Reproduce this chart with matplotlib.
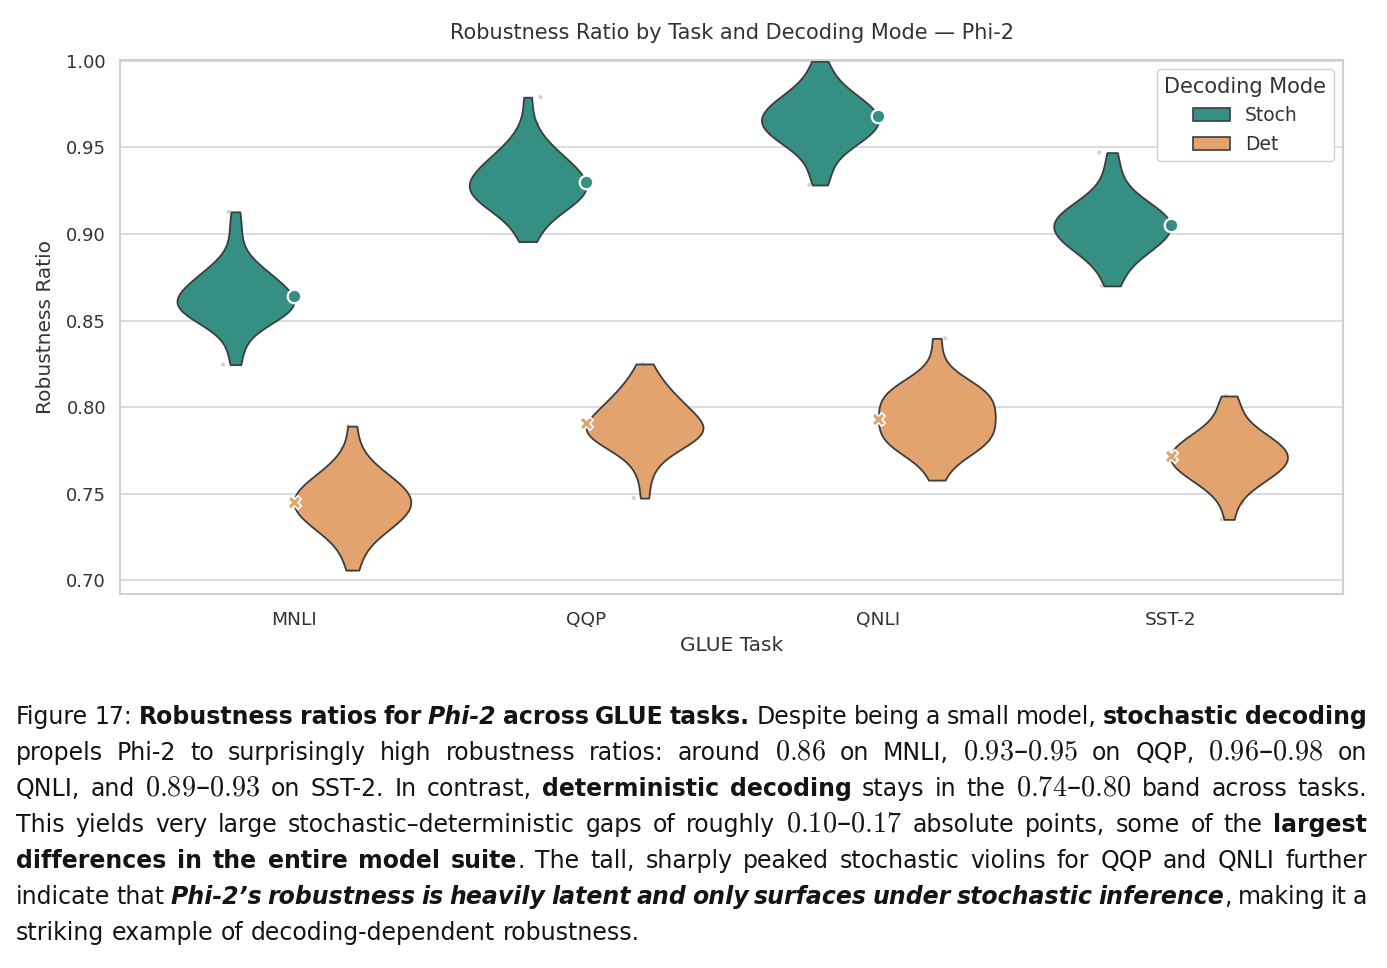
import numpy as np
import pandas as pd
import matplotlib
matplotlib.use("Agg")
import matplotlib.pyplot as plt
import seaborn as sns
from matplotlib.patches import Patch

# ---------------- data ----------------
tasks = ["MNLI", "QQP", "QNLI", "SST-2"]
modes = ["Stoch", "Det"]

mnli_stoch = [0.8245, 0.8320,
              0.8407, 0.8452, 0.8476, 0.8494, 0.8508, 0.8521, 0.8531, 0.8541, 0.8550,
              0.8559, 0.8567, 0.8575, 0.8582, 0.8589, 0.8596, 0.8603, 0.8610, 0.8617,
              0.8625, 0.8635, 0.8645, 0.8655, 0.8666, 0.8677, 0.8688, 0.8700, 0.8712,
              0.8725, 0.8737, 0.8750, 0.8765, 0.8780, 0.8799, 0.8820, 0.8846, 0.8932,
              0.9030, 0.9128]
mnli_det = [0.7058,
            0.7138, 0.7204, 0.7240, 0.7266, 0.7287, 0.7305, 0.7320, 0.7335, 0.7348,
            0.7360, 0.7372, 0.7383, 0.7394, 0.7405, 0.7415, 0.7425, 0.7435, 0.7445,
            0.7455, 0.7465, 0.7475, 0.7485, 0.7495, 0.7506, 0.7517, 0.7528, 0.7540,
            0.7552, 0.7565, 0.7580, 0.7595, 0.7613, 0.7634, 0.7660, 0.7696, 0.7762,
            0.7890]
qqp_stoch = [0.8956,
             0.9008, 0.9068, 0.9101, 0.9124, 0.9143, 0.9159, 0.9173, 0.9186, 0.9198,
             0.9209, 0.9220, 0.9230, 0.9240, 0.9249, 0.9259, 0.9268, 0.9277, 0.9286,
             0.9296, 0.9307, 0.9318, 0.9329, 0.9341, 0.9353, 0.9365, 0.9377, 0.9390,
             0.9404, 0.9419, 0.9435, 0.9453, 0.9473, 0.9496, 0.9525, 0.9565, 0.9640,
             0.9790]
qqp_det = [0.7474, 0.7600,
           0.7671, 0.7720, 0.7746, 0.7765, 0.7780, 0.7794, 0.7805, 0.7816, 0.7825,
           0.7834, 0.7843, 0.7851, 0.7859, 0.7867, 0.7874, 0.7882, 0.7889, 0.7896,
           0.7906, 0.7918, 0.7929, 0.7941, 0.7954, 0.7966, 0.7979, 0.7992, 0.8006,
           0.8021, 0.8036, 0.8053, 0.8072, 0.8093, 0.8118, 0.8149, 0.8191, 0.8249]
qnli_stoch = [0.9283, 0.9330,
              0.9387, 0.9445, 0.9477, 0.9499, 0.9517, 0.9533, 0.9547, 0.9559, 0.9571,
              0.9582, 0.9592, 0.9602, 0.9611, 0.9620, 0.9630, 0.9638, 0.9647, 0.9656,
              0.9665, 0.9674, 0.9683, 0.9693, 0.9702, 0.9712, 0.9722, 0.9733, 0.9744,
              0.9756, 0.9768, 0.9781, 0.9796, 0.9813, 0.9833, 0.9857, 0.9890, 0.9953,
              0.9998]
qnli_det = [0.7578, 0.7650,
            0.7725, 0.7737, 0.7750, 0.7762, 0.7774, 0.7786, 0.7799, 0.7811, 0.7823,
            0.7836, 0.7848, 0.7860, 0.7872, 0.7885, 0.7897, 0.7909, 0.7922, 0.7934,
            0.7946, 0.7958, 0.7971, 0.7983, 0.7995, 0.8008, 0.8020, 0.8032, 0.8044,
            0.8057, 0.8069, 0.8081, 0.8094, 0.8106, 0.8118, 0.8130, 0.8143, 0.8155,
            0.8250, 0.8397]
sst2_stoch = [0.8700,
              0.8747, 0.8810, 0.8843, 0.8867, 0.8887, 0.8904, 0.8919, 0.8932, 0.8944,
              0.8956, 0.8967, 0.8978, 0.8988, 0.8998, 0.9007, 0.9017, 0.9026, 0.9035,
              0.9044, 0.9053, 0.9062, 0.9071, 0.9080, 0.9089, 0.9098, 0.9108, 0.9118,
              0.9129, 0.9141, 0.9153, 0.9167, 0.9183, 0.9201, 0.9224, 0.9255, 0.9313,
              0.9380, 0.9470]
sst2_det = [0.7351,
            0.7446, 0.7502, 0.7532, 0.7554, 0.7572, 0.7587, 0.7600, 0.7613, 0.7624,
            0.7634, 0.7644, 0.7654, 0.7663, 0.7672, 0.7680, 0.7689, 0.7697, 0.7706,
            0.7714, 0.7723, 0.7731, 0.7740, 0.7748, 0.7757, 0.7766, 0.7776, 0.7786,
            0.7797, 0.7807, 0.7820, 0.7833, 0.7848, 0.7866, 0.7888, 0.7918, 0.7974,
            0.8020, 0.8064]

# point estimates shown as markers
stoch_point = [0.864, 0.930, 0.968, 0.905]
det_point = [0.745, 0.791, 0.793, 0.772]

yticks = [0.70, 0.75, 0.80, 0.85, 0.90, 0.95, 1.00]

title_text = "Robustness Ratio by Task and Decoding Mode \u2014 Phi-2"
xlabel_text = "GLUE Task"
ylabel_text = "Robustness Ratio"
legend_title = "Decoding Mode"

groups = {
    ("MNLI", "Stoch"): mnli_stoch, ("MNLI", "Det"): mnli_det,
    ("QQP", "Stoch"): qqp_stoch, ("QQP", "Det"): qqp_det,
    ("QNLI", "Stoch"): qnli_stoch, ("QNLI", "Det"): qnli_det,
    ("SST-2", "Stoch"): sst2_stoch, ("SST-2", "Det"): sst2_det,
}
rows = []
for (t, m), vals in groups.items():
    for v in vals:
        rows.append((t, m, v))
df = pd.DataFrame(rows, columns=["Task", "Mode", "Ratio"])

# ---------------- style ----------------
TEAL = "#368F83"
ORANGE = "#E3A36F"
EDGE = "#3d3d3d"
TXT = "#333333"

sns.set_theme(style="whitegrid")
plt.rcParams["font.family"] = ["DejaVu Sans"]

fig = plt.figure(figsize=(13.87, 9.68), dpi=100)
ax = fig.add_axes([120 / 1387, 1 - 594 / 968, (1343 - 120) / 1387, (594 - 60) / 968])

np.random.seed(7)
n0 = len(ax.collections)
sns.stripplot(data=df, x="Task", y="Ratio", hue="Mode", order=tasks, hue_order=modes,
              dodge=True, jitter=0.1, palette=["#a6a6a6", "#a6a6a6"], size=3.0,
              alpha=0.5, linewidth=0, legend=False, ax=ax)
for c in ax.collections[n0:]:
    c.set_zorder(1)
n1 = len(ax.collections)
sns.violinplot(data=df, x="Task", y="Ratio", hue="Mode", order=tasks, hue_order=modes,
               palette=[TEAL, ORANGE], cut=0, inner=None, density_norm="width",
               linewidth=1.3, linecolor=EDGE, saturation=1, legend=False, ax=ax)
for c in ax.collections[n1:]:
    c.set_zorder(2)

xpos = np.arange(len(tasks))
ax.scatter(xpos, stoch_point, marker="o", s=95, color=TEAL, edgecolor="white",
           linewidth=1.6, zorder=5)
ax.scatter(xpos, det_point, marker="X", s=95, color=ORANGE, edgecolor="white",
           linewidth=1.2, zorder=5)

ax.set_xlim(-0.595, 3.59)
ax.set_ylim(0.692, 1.0005)
ax.set_yticks(yticks)
ax.set_yticklabels([f"{v:.2f}" for v in yticks])
ax.grid(axis="y", color="#d5d5d5", linewidth=1.2)
ax.grid(axis="x", visible=False)
for s in ax.spines.values():
    s.set_color("#cfcfcf")
    s.set_linewidth(1.5)
ax.tick_params(axis="x", length=0, pad=12, labelsize=13.3, labelcolor=TXT)
ax.tick_params(axis="y", length=0, pad=10, labelsize=13, labelcolor=TXT)
ax.set_xlabel(xlabel_text, fontsize=14.5, color=TXT, labelpad=5)
ax.set_ylabel(ylabel_text, fontsize=14.5, color=TXT, labelpad=8)
ax.set_title(title_text, fontsize=15, color=TXT, pad=15)

handles = [Patch(facecolor=TEAL, edgecolor=EDGE, linewidth=1.2, label=modes[0]),
           Patch(facecolor=ORANGE, edgecolor=EDGE, linewidth=1.2, label=modes[1])]
leg = ax.legend(handles=handles, title=legend_title, loc="upper right", fontsize=13.5,
                title_fontsize=15, frameon=True, fancybox=True, framealpha=1)
leg.get_frame().set_edgecolor("#d0d0d0")
for t in leg.get_texts():
    t.set_color(TXT)
leg.get_title().set_color(TXT)

# ---------------- caption ----------------
cap_lines = [
    [("Figure 17: ", "r"), ("Robustness ratios for ", "b"), ("Phi-2", "bi"),
     (" across GLUE tasks.", "b"), (" Despite being a small model, ", "r"),
     ("stochastic decoding", "b")],
    [("propels Phi-2 to surprisingly high robustness ratios: around ", "r"), ("$0.86$", "m"),
     (" on MNLI, ", "r"), ("$0.93$\u2013$0.95$", "m"), (" on QQP, ", "r"),
     ("$0.96$\u2013$0.98$", "m"), (" on", "r")],
    [("QNLI, and ", "r"), ("$0.89$\u2013$0.93$", "m"), (" on SST-2. In contrast, ", "r"),
     ("deterministic decoding", "b"), (" stays in the ", "r"), ("$0.74$\u2013$0.80$", "m"),
     (" band across tasks.", "r")],
    [("This yields very large stochastic\u2013deterministic gaps of roughly ", "r"),
     ("$0.10$\u2013$0.17$", "m"), (" absolute points, some of the ", "r"), ("largest", "b")],
    [("differences in the entire model suite", "b"),
     (". The tall, sharply peaked stochastic violins for QQP and QNLI further", "r")],
    [("indicate that ", "r"),
     ("Phi-2\u2019s robustness is heavily latent and only surfaces under stochastic inference", "bi"),
     (", making it a", "r")],
    [("striking example of decoding-dependent robustness.", "r")],
]

W, H = 1387, 968
X0, X1 = 16, 1367
BASE0, STEP = 724, 36
CAPC = "#141414"

renderer = fig.canvas.get_renderer()


def style_kw(st, fs):
    kw = dict(color=CAPC, fontsize=fs, family="DejaVu Sans")
    if st in ("b", "bi"):
        kw["fontweight"] = "bold"
    if st in ("i", "bi"):
        kw["fontstyle"] = "italic"
    if st == "m":
        kw["math_fontfamily"] = "cm"
        kw["fontsize"] = fs * 1.2
    return kw


def measure(s, st, fs):
    t = fig.text(0, 0, s, **style_kw(st, fs))
    w = t.get_window_extent(renderer).width
    t.remove()
    return w


def tokens_of(line):
    toks = []
    pending = True
    for text, st in line:
        parts = text.split(" ")
        for j, p in enumerate(parts):
            if j > 0:
                pending = True
            if p:
                toks.append([p, st, (not pending) and len(toks) > 0])
                pending = False
    words = []
    for p, st, glue in toks:
        if glue and words:
            words[-1].append((p, st))
        else:
            words.append([(p, st)])
    return words


all_words = [tokens_of(line) for line in cap_lines]

w10 = measure("striking example of decoding-dependent robustness.", "r", 10)
FS = 10 * (671 - 16) / w10
space = measure("a a", "r", FS) - measure("aa", "r", FS)
need = 0
for words in all_words[:-1]:
    tot = sum(measure(p, st, FS) for wd in words for p, st in wd)
    need = max(need, (tot + 0.8 * space * (len(words) - 1)) / (X1 - X0))
if need > 1:
    FS /= need
    space /= need

for li, words in enumerate(all_words):
    widths = [[measure(p, st, FS) for p, st in wd] for wd in words]
    totals = [sum(w) for w in widths]
    last = li == len(all_words) - 1
    if last or len(words) < 2:
        gap = space
    else:
        gap = (X1 - X0 - sum(totals)) / (len(words) - 1)
    x = X0
    yb = BASE0 + li * STEP
    for wd, wl in zip(words, widths):
        for (p, st), w in zip(wd, wl):
            fig.text(x / W, 1 - yb / H, p, va="baseline", ha="left", **style_kw(st, FS))
            x += w
        x += gap

fig.savefig("out.png", dpi=100)
